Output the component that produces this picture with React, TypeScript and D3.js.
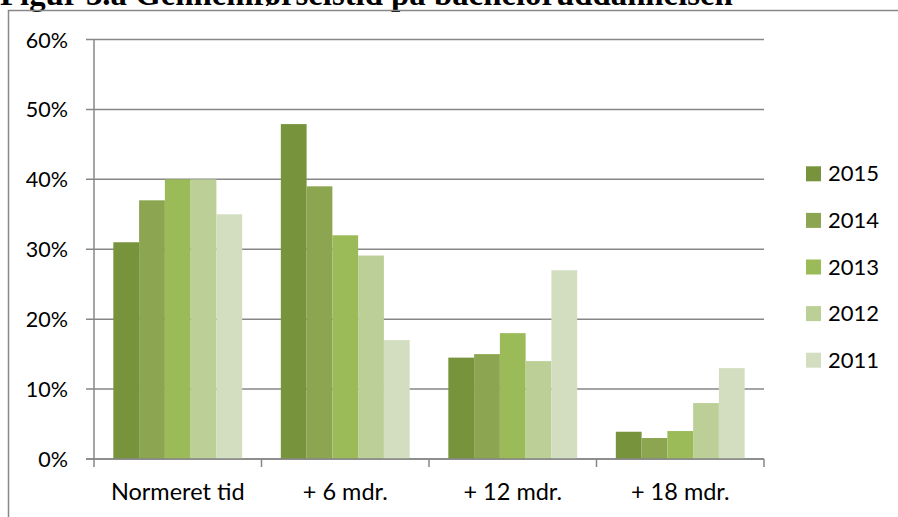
import React from "react";
import * as d3 from "d3";

const categories = ["Normeret tid", "+ 6 mdr.", "+ 12 mdr.", "+ 18 mdr."];
const seriesNames = ["2015", "2014", "2013", "2012", "2011"];
const values2015 = [31, 47.9, 14.5, 3.9];
const values2014 = [37, 39, 15, 3];
const values2013 = [40, 32, 18, 4];
const values2012 = [40, 29.1, 14, 8];
const values2011 = [35, 17, 27, 13];
const seriesValues = [values2015, values2014, values2013, values2012, values2011];
const seriesColors = ["#77933C", "#8CA550", "#9BBB59", "#BBCF96", "#D2DEBF"];
const yTicks = [0, 10, 20, 30, 40, 50, 60];
const title = "Figur 3.a Gennemførselstid på bacheloruddannelsen";

const W = 898;
const H = 517;
const FONT = "Lato, 'Open Sans', sans-serif";

export default function App() {
  const x = d3.scaleBand<string>().domain(categories).range([94, 764]).paddingInner(0).paddingOuter(0);
  const xi = d3
    .scaleBand<string>()
    .domain(seriesNames)
    .range([0, x.bandwidth()])
    .paddingInner(0)
    .paddingOuter(0.75);
  const y = d3.scaleLinear().domain([0, 60]).range([459, 39.5]);
  const grid = "#878787";

  return (
    <svg
      width={W}
      height={H}
      style={{ position: "absolute", left: 0, top: 0, background: "#fff" }}
    >
      <text
        x={0}
        y={5}
        fontFamily="'Liberation Serif', 'Times New Roman', serif"
        fontWeight="bold"
        fontSize={32.8}
        fill="#000"
      >
        {title}
      </text>
      <rect x={8.5} y={10.5} width={W + 20} height={H + 20} fill="none" stroke="#888" strokeWidth={1.5} />

      {/* gridlines */}
      {yTicks.map((t) => (
        <line key={"g" + t} x1={86} x2={764} y1={y(t)} y2={y(t)} stroke={grid} strokeWidth={1.5} />
      ))}
      {/* y tick labels */}
      {yTicks.map((t) => (
        <text
          key={"yl" + t}
          x={68}
          y={y(t)}
          textAnchor="end"
          dominantBaseline="central"
          fontFamily={FONT}
          fontSize={21.5}
          fill="#000"
        >
          {t + "%"}
        </text>
      ))}

      {/* bars */}
      {seriesNames.map((s, si) =>
        categories.map((c, ci) => {
          const v = seriesValues[si][ci];
          const bx = (x(c) as number) + (xi(s) as number);
          return (
            <rect
              key={s + c}
              x={bx}
              y={y(v)}
              width={xi.bandwidth()}
              height={y(0) - y(v)}
              fill={seriesColors[si]}
            />
          );
        })
      )}

      {/* axes */}
      <line x1={94} x2={94} y1={y(60)} y2={467} stroke={grid} strokeWidth={1.5} />
      <line x1={86} x2={764} y1={y(0)} y2={y(0)} stroke={grid} strokeWidth={1.5} />
      {categories.map((c) => (
        <line
          key={"xt" + c}
          x1={(x(c) as number) + x.bandwidth()}
          x2={(x(c) as number) + x.bandwidth()}
          y1={y(0)}
          y2={467}
          stroke={grid}
          strokeWidth={1.5}
        />
      ))}
      {categories.map((c) => (
        <text
          key={"xl" + c}
          x={(x(c) as number) + x.bandwidth() / 2}
          y={500}
          textAnchor="middle"
          fontFamily={FONT}
          fontSize={23.5}
          fill="#000"
        >
          {c}
        </text>
      ))}

      {/* legend */}
      {seriesNames.map((s, si) => {
        const cy = 173.8 + si * 46.6;
        return (
          <g key={"lg" + s}>
            <rect x={806} y={cy - 7.5} width={15} height={15} fill={seriesColors[si]} />
            <text x={828} y={cy + 7.5} fontFamily={FONT} fontSize={22} fill="#000">
              {s}
            </text>
          </g>
        );
      })}
    </svg>
  );
}
